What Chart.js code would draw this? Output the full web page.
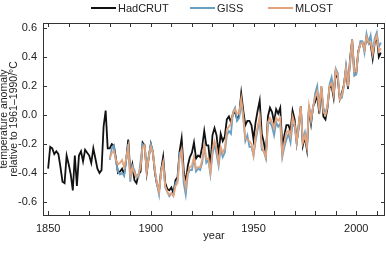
<!DOCTYPE html>
<html>
<head>
<meta charset="utf-8">
<title>Temperature anomaly</title>
<script src="https://cdn.jsdelivr.net/npm/chart.js@4.4.1/dist/chart.umd.min.js"></script>
<style>
  html, body { margin: 0; padding: 0; background: #fff; }
  #wrap { position: relative; width: 386px; height: 257px; }
  .leg { position: absolute; top: 2px; height: 12px; font: 11px "Liberation Sans", Arial, sans-serif; color: #222; line-height: 12px; white-space: nowrap; }
  .leg span { display: inline-block; width: 25px; height: 2px; vertical-align: middle; margin-right: 2px; position: relative; top: -1px; }
</style>
</head>
<body>
<div id="wrap">
  <canvas id="chart" width="386" height="257"></canvas>
  <div class="leg" style="left:91px"><span style="background:#111"></span>HadCRUT</div>
  <div class="leg" style="left:190px"><span style="background:#6a9fc2"></span>GISS</div>
  <div class="leg" style="left:268px"><span style="background:#e3a37c"></span>MLOST</div>
</div>
<script>
// annual anomalies, relative to 1961-1990
var hadStart = 1850;
var hadcrut = [
  -0.37, -0.22, -0.23, -0.27, -0.25, -0.27, -0.36, -0.46, -0.47, -0.28,
  -0.34, -0.41, -0.52, -0.28, -0.49, -0.28, -0.25, -0.32, -0.24, -0.26,
  -0.28, -0.33, -0.23, -0.30, -0.37, -0.40, -0.38, -0.08, 0.03, -0.23,
  -0.23, -0.20, -0.21, -0.30, -0.40, -0.39, -0.37, -0.41, -0.31, -0.17,
  -0.40, -0.34, -0.45, -0.47, -0.41, -0.39, -0.19, -0.21, -0.40, -0.29,
  -0.20, -0.26, -0.40, -0.48, -0.52, -0.38, -0.29, -0.47, -0.51, -0.52,
  -0.50, -0.54, -0.45, -0.43, -0.25, -0.16, -0.38, -0.47, -0.35, -0.29,
  -0.26, -0.19, -0.30, -0.28, -0.29, -0.22, -0.11, -0.21, -0.21, -0.35,
  -0.14, -0.09, -0.14, -0.27, -0.13, -0.18, -0.15, -0.03, -0.01, -0.05,
  0.01, 0.02, -0.03, 0.00, 0.15, 0.03, -0.07, -0.04, -0.04, -0.07,
  -0.17, -0.05, 0.03, 0.10, -0.13, -0.19, -0.27, -0.01, 0.05, 0.02,
  -0.05, 0.04, 0.01, 0.05, -0.22, -0.14, -0.07, -0.07, -0.11, 0.03,
  -0.03, -0.19, -0.07, 0.06, -0.21, -0.15, -0.24, 0.05, -0.06, 0.06,
  0.09, 0.14, 0.01, 0.19, -0.01, -0.03, 0.05, 0.19, 0.20, 0.12,
  0.30, 0.25, 0.11, 0.15, 0.21, 0.32, 0.18, 0.39, 0.52, 0.31,
  0.29, 0.44, 0.49, 0.50, 0.45, 0.54, 0.50, 0.49, 0.39, 0.50,
  0.54, 0.40, 0.43
];
var gissStart = 1880;
var giss = [
  -0.31, -0.23, -0.21, -0.32, -0.39, -0.41, -0.40, -0.42, -0.31, -0.20,
  -0.46, -0.35, -0.38, -0.43, -0.43, -0.32, -0.20, -0.21, -0.38, -0.28,
  -0.20, -0.25, -0.39, -0.48, -0.55, -0.38, -0.33, -0.50, -0.53, -0.56,
  -0.54, -0.55, -0.47, -0.45, -0.26, -0.25, -0.47, -0.55, -0.41, -0.38,
  -0.38, -0.30, -0.39, -0.37, -0.38, -0.33, -0.21, -0.33, -0.31, -0.41,
  -0.27, -0.20, -0.27, -0.35, -0.23, -0.29, -0.26, -0.14, -0.11, -0.13,
  0.02, 0.05, -0.04, -0.02, 0.09, -0.02, -0.18, -0.14, -0.22, -0.22,
  -0.28, -0.18, -0.10, -0.03, -0.24, -0.25, -0.30, -0.06, -0.05, -0.08,
  -0.14, -0.05, -0.08, -0.06, -0.29, -0.22, -0.17, -0.13, -0.19, -0.06,
  -0.08, -0.19, -0.10, 0.05, -0.18, -0.12, -0.21, 0.07, -0.04, 0.05,
  0.15, 0.20, 0.03, 0.20, 0.05, 0.01, 0.07, 0.21, 0.26, 0.16,
  0.32, 0.29, 0.11, 0.12, 0.20, 0.34, 0.22, 0.35, 0.50, 0.27,
  0.28, 0.43, 0.51, 0.51, 0.43, 0.56, 0.50, 0.55, 0.43, 0.53,
  0.57, 0.47, 0.50
];
var mlostStart = 1880;
var mlost = [
  -0.30, -0.26, -0.25, -0.31, -0.34, -0.33, -0.31, -0.36, -0.30, -0.22,
  -0.42, -0.36, -0.40, -0.43, -0.41, -0.36, -0.22, -0.21, -0.39, -0.29,
  -0.22, -0.26, -0.38, -0.47, -0.53, -0.40, -0.33, -0.49, -0.53, -0.55,
  -0.54, -0.56, -0.49, -0.47, -0.30, -0.24, -0.42, -0.50, -0.40, -0.36,
  -0.35, -0.29, -0.37, -0.36, -0.36, -0.31, -0.21, -0.30, -0.30, -0.40,
  -0.24, -0.18, -0.23, -0.33, -0.22, -0.26, -0.23, -0.10, -0.08, -0.06,
  0.01, 0.04, 0.01, 0.01, 0.11, -0.01, -0.16, -0.17, -0.18, -0.20,
  -0.28, -0.15, -0.08, -0.01, -0.22, -0.25, -0.29, -0.05, -0.02, -0.05,
  -0.09, -0.02, -0.04, -0.02, -0.27, -0.19, -0.12, -0.11, -0.15, -0.01,
  -0.06, -0.19, -0.06, 0.06, -0.19, -0.14, -0.22, 0.06, -0.03, 0.06,
  0.12, 0.16, 0.05, 0.20, 0.02, 0.00, 0.06, 0.20, 0.22, 0.14,
  0.31, 0.27, 0.11, 0.14, 0.20, 0.32, 0.20, 0.38, 0.52, 0.30,
  0.30, 0.43, 0.49, 0.50, 0.45, 0.54, 0.50, 0.50, 0.42, 0.51,
  0.55, 0.44, 0.46
];
var xTicks = [1850, 1900, 1950, 2000];
var yTicks = [-0.6, -0.4, -0.2, 0.0, 0.2, 0.4, 0.6];

function toPoints(start, vals) {
  return vals.map(function(v, i) { return { x: start + i, y: v }; });
}

var FONT = '"Liberation Sans", Arial, sans-serif';

// box round the plot with inward ticks
var frame = {
  id: 'frame',
  afterDatasetsDraw: function(chart) {
    var ctx = chart.ctx, a = chart.chartArea;
    var xs = chart.scales.x, ys = chart.scales.y;
    ctx.save();
    ctx.strokeStyle = '#333';
    ctx.lineWidth = 1;
    ctx.strokeRect(a.left + 0.5, a.top + 0.5, a.right - a.left - 1, a.bottom - a.top);
    ctx.beginPath();
    for (var yr = 1850; yr <= 2010; yr += 10) {
      var px = Math.round(xs.getPixelForValue(yr)) + 0.5;
      ctx.moveTo(px, a.bottom); ctx.lineTo(px, a.bottom - 4);
      ctx.moveTo(px, a.top); ctx.lineTo(px, a.top + 4);
    }
    yTicks.forEach(function(v) {
      var py = Math.round(ys.getPixelForValue(v)) + 0.5;
      ctx.moveTo(a.left, py); ctx.lineTo(a.left + 4, py);
      ctx.moveTo(a.right, py); ctx.lineTo(a.right - 4, py);
    });
    ctx.stroke();
    ctx.restore();
  }
};

new Chart(document.getElementById('chart'), {
  type: 'line',
  data: {
    datasets: [
      { label: 'MLOST', data: toPoints(mlostStart, mlost), borderColor: '#e3a37c', borderWidth: 1.8, pointRadius: 0, tension: 0 },
      { label: 'GISS', data: toPoints(gissStart, giss), borderColor: '#6a9fc2', borderWidth: 1.8, pointRadius: 0, tension: 0 },
      { label: 'HadCRUT', data: toPoints(hadStart, hadcrut), borderColor: '#111', borderWidth: 1.8, pointRadius: 0, tension: 0 }
    ]
  },
  options: {
    responsive: false,
    animation: false,
    layout: { padding: { top: 23, right: 1, left: 0, bottom: 0 } },
    plugins: { legend: { display: false }, tooltip: { enabled: false } },
    scales: {
      x: {
        type: 'linear',
        min: 1847.5,
        max: 2014,
        afterBuildTicks: function(s) { s.ticks = xTicks.map(function(v) { return { value: v }; }); },
        afterFit: function(s) { s.height = 42; },
        grid: { display: false, drawTicks: false },
        border: { display: false },
        ticks: { padding: 7, color: '#222', font: { family: FONT, size: 11 }, maxRotation: 0,
          callback: function(v) { return String(v); } },
        title: { display: true, text: 'year', color: '#222', font: { family: FONT, size: 11 }, padding: { top: 0, bottom: 14 } }
      },
      y: {
        min: -0.69,
        max: 0.635,
        afterBuildTicks: function(s) { s.ticks = yTicks.map(function(v) { return { value: v }; }); },
        afterFit: function(s) { s.width = 43; },
        grid: { display: false, drawTicks: false },
        border: { display: false },
        ticks: { padding: 6, color: '#222', font: { family: FONT, size: 11 },
          callback: function(v) { return v.toFixed(1); } },
        title: { display: true, text: ['temperature anomaly', 'relative to 1961\u20131990/\u00b0C'], color: '#222',
          font: { family: FONT, size: 10.5, lineHeight: 1.0 }, padding: { top: -1.5, bottom: 0 } }
      }
    }
  },
  plugins: [frame]
});
</script>
</body>
</html>
